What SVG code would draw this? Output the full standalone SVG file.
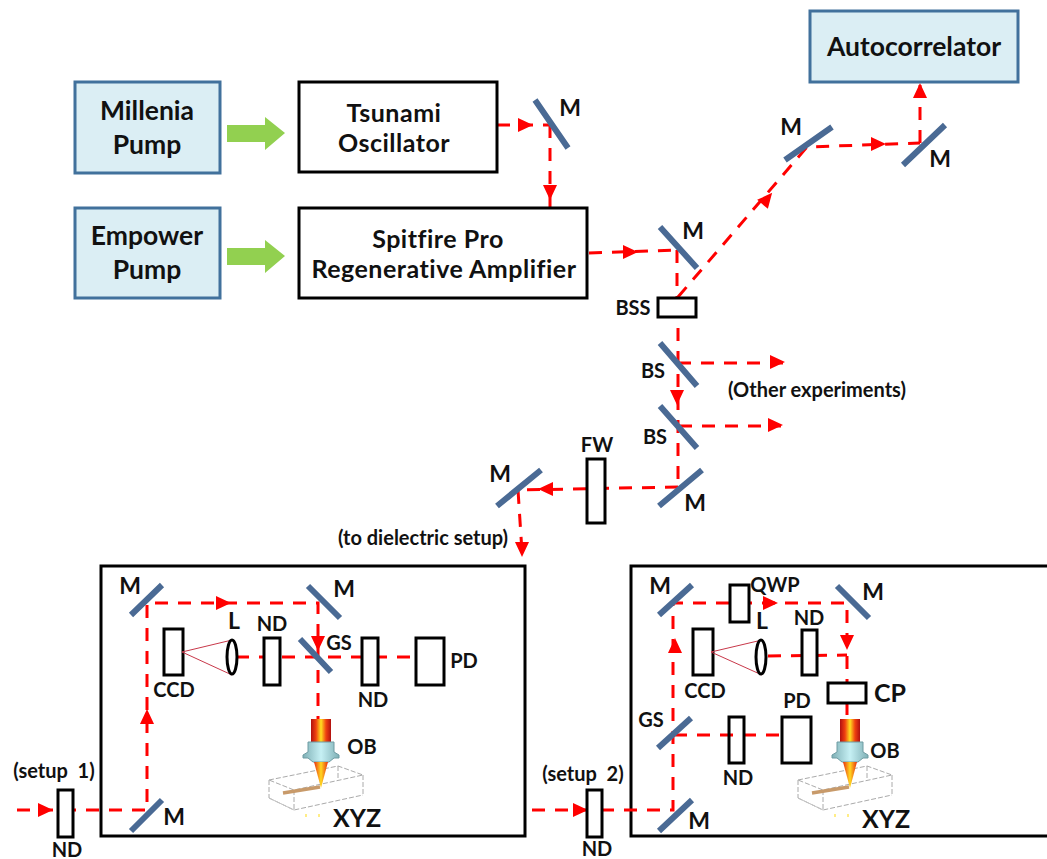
<svg xmlns="http://www.w3.org/2000/svg" width="1047" height="859" viewBox="0 0 1047 859">
<style>
text{font-family:"Lato","Liberation Sans",sans-serif;font-weight:700;fill:#111;text-anchor:middle;white-space:pre}
.t{font-size:26.5px}
.t2{font-size:25px;letter-spacing:.5px}
.l{font-size:23px}
.x{font-size:25px}
.s{font-size:20px}
.pump{fill:#dbeef4;stroke:#41719c;stroke-width:3}
.box{fill:#fff;stroke:#000;stroke-width:3}
.panel{fill:#fff;stroke:#000;stroke-width:3}
.o{fill:#fff;stroke:#000;stroke-width:3}
.n{fill:none;stroke:#000;stroke-width:3}
.mir{stroke:#4a6a94;stroke-width:6;fill:none}
.beam{stroke:#f00;stroke-width:3;stroke-dasharray:13 10;fill:none}
.cone{stroke:#c8384a;stroke-width:1;fill:none}
.cub{stroke:#aaa;stroke-width:1;stroke-dasharray:5 2;fill:none}
.cubs{stroke:#c4c4c4;stroke-width:1;fill:none}
</style>
<defs>
<linearGradient id="fire"><stop offset="0" stop-color="#b01010"/><stop offset=".25" stop-color="#f04010"/><stop offset=".5" stop-color="#ffe020"/><stop offset=".75" stop-color="#f04010"/><stop offset="1" stop-color="#b01010"/></linearGradient>
<linearGradient id="fire2"><stop offset="0" stop-color="#e83010"/><stop offset=".5" stop-color="#ffd820"/><stop offset="1" stop-color="#e83010"/></linearGradient>
<linearGradient id="teal"><stop offset="0" stop-color="#7fb0b6"/><stop offset=".5" stop-color="#c6f0f4"/><stop offset="1" stop-color="#7fb0b6"/></linearGradient>
<path id="ah" d="M-7-7L8 0L-7 7Z" fill="#f00"/>
<g id="ob">
<path class="cub" d="M-52 61L17 47L42 56L-27 71ZM-52 79L-27 91L42 76M-27 71V91M42 56V76M-52 61V79M17 47V60"/>
<path class="cubs" d="M-52 79L-27 91"/>
<rect x="-10" y="0" width="20" height="23" fill="url(#fire)"/>
<path d="M-13 23H13V33L18 36V39H13L8 43H-8L-13 39H-18V36L-13 33Z" fill="url(#teal)" stroke="#6f9ca3" stroke-width="1"/>
<path d="M-7 43H7L0 69Z" fill="url(#fire2)"/>
<path d="M-38 74L-1 68" stroke="#c89a6a" stroke-width="3.500" fill="none"/>
<path d="M-15 95v3M-2 95v3" stroke="#ffe860" stroke-width="1.500"/>
</g>
</defs>
<rect width="1047" height="859" fill="#fff"/>

<g id="panels">
<rect class="panel" x="101" y="566" width="424" height="270"/>
<rect class="panel" x="631" y="566" width="420" height="270"/>
</g>

<g id="connectors">
<path class="beam" d="M497 125H550"/><path class="beam" d="M550 125V208"/>
<path class="beam" d="M589 253L677 250"/><path class="beam" d="M677 250V298"/>
<path class="beam" d="M678 297L807 147L920 143"/><path class="beam" d="M920 143V85"/>
<path class="beam" d="M678 328V487"/><path class="beam" d="M678 363H783"/><path class="beam" d="M679 426H781"/>
<path class="beam" d="M678 487L518 490L522 552"/>
<path class="beam" d="M17 810H147V603H318V719"/>
<path class="beam" d="M236 657H416"/>
<path class="beam" d="M532 810H673V603H847V719"/>
<path class="beam" d="M768 656L847 655"/>
<path class="beam" d="M674 735H782"/>
<use href="#ah" transform="translate(525 125)"/>
<use href="#ah" transform="translate(550 192) rotate(90)"/>
<use href="#ah" transform="translate(630 252)"/>
<use href="#ah" transform="translate(767 199) rotate(-50)"/>
<use href="#ah" transform="translate(878 144)"/>
<use href="#ah" transform="translate(920 91) rotate(-90)"/>
<use href="#ah" transform="translate(777 362)"/>
<use href="#ah" transform="translate(775 425)"/>
<use href="#ah" transform="translate(677 397) rotate(90)"/>
<use href="#ah" transform="translate(546 489) rotate(180)"/>
<use href="#ah" transform="translate(522 549) rotate(90)"/>
<use href="#ah" transform="translate(45 810)"/>
<use href="#ah" transform="translate(147 717) rotate(-90)"/>
<use href="#ah" transform="translate(223 603)"/>
<use href="#ah" transform="translate(318 643) rotate(90)"/>
<use href="#ah" transform="translate(580 810)"/>
<use href="#ah" transform="translate(675 646) rotate(-90)"/>
<use href="#ah" transform="translate(770 603)"/>
<use href="#ah" transform="translate(847 642) rotate(90)"/>
<path d="M227 125H265V117L285 133L265 150V142H227Z" fill="#92d050"/>
<path d="M227 248H265V240L285 256L265 273V265H227Z" fill="#92d050"/>
</g>

<g id="millenia"><rect class="pump" x="75" y="82" width="145" height="91"/><text class="t" x="147" y="120">Millenia</text><text class="t" x="147" y="154">Pump</text></g>
<g id="empower"><rect class="pump" x="75" y="208" width="145" height="90"/><text class="t" x="147" y="245">Empower</text><text class="t" x="147" y="279">Pump</text></g>
<g id="tsunami"><rect class="box" x="299" y="82" width="198" height="90"/><text class="t2" x="394" y="122">Tsunami</text><text class="t2" x="394" y="152">Oscillator</text></g>
<g id="spitfire"><rect class="box" x="299" y="208" width="288" height="90"/><text class="t2" x="438" y="248">Spitfire Pro</text><text class="t2" x="444" y="278">Regenerative Amplifier</text></g>
<g id="autocorrelator"><rect class="pump" x="810" y="11" width="208" height="71"/><text class="t" x="914" y="56">Autocorrelator</text></g>

<g id="main-optics">
<path class="mir" d="M535 100L568 148M660 227L697 268M785 160L832 127M903 165L945 125M660 343L697 386M660 406L697 448M659 506L702 470M497 506L541 470"/>
<rect class="o" x="658" y="298" width="38" height="19"/>
<rect class="o" x="587" y="459" width="18" height="64"/>
<text class="l" x="570" y="116">M</text><text class="l" x="791" y="135">M</text><text class="l" x="940" y="167">M</text>
<text class="l" x="693" y="239">M</text><text class="s" x="633" y="315">BSS</text><text class="s" x="653" y="378">BS</text><text class="s" x="655" y="444">BS</text>
<text class="l" x="695" y="511">M</text><text class="l" x="500" y="482">M</text><text class="s" x="597" y="452">FW</text>
<text class="s" x="817" y="397">(Other experiments)</text>
<text class="s" x="423" y="545">(to dielectric setup)</text>
</g>

<g id="setup1">
<path class="mir" d="M131 615L162 585M308 586L340 618M300 639L331 672M131 831L162 800"/>
<rect class="o" x="164" y="629" width="19" height="46"/>
<path class="cone" d="M182 652L232 640M182 652L232 675"/>
<ellipse class="n" cx="232" cy="657" rx="5" ry="17"/>
<rect class="o" x="264" y="638" width="16" height="47"/>
<rect class="o" x="362" y="638" width="16" height="47"/>
<rect class="o" x="416" y="638" width="28" height="47"/>
<use href="#ob" transform="translate(321 719)"/>
<text class="l" x="130" y="594">M</text><text class="l" x="344" y="597">M</text><text class="l" x="174" y="825">M</text>
<text class="l" x="234" y="629">L</text><text class="s" x="272" y="631">ND</text>
<text class="s" x="339" y="650">GS</text><text class="s" x="373" y="707">ND</text><text class="s" x="464" y="668">PD</text>
<text class="s" x="174" y="697">CCD</text><text class="s" x="362" y="754">OB</text>
<text class="x" x="357" y="827">XYZ</text>
</g>

<g id="setup1-input"><rect class="o" x="58" y="790" width="15" height="47"/><text class="s" x="54" y="778">(setup  1)</text><text class="s" x="67" y="857">ND</text></g>

<g id="setup2">
<path class="mir" d="M659 615L692 585M837 586L869 618M658 748L691 718M659 831L692 800"/>
<rect class="o" x="730" y="585" width="19" height="37"/>
<rect class="o" x="693" y="629" width="20" height="46"/>
<path class="cone" d="M711 652L762 640M711 652L762 675"/>
<ellipse class="n" cx="761" cy="657" rx="5" ry="17"/>
<rect class="o" x="802" y="630" width="15" height="45"/>
<rect class="o" x="828" y="683" width="38" height="20"/>
<rect class="n" x="729" y="717" width="15" height="46"/>
<rect class="o" x="782" y="717" width="29" height="46"/>
<use href="#ob" transform="translate(850 719)"/>
<text class="l" x="660" y="594">M</text><text class="l" x="873" y="600">M</text><text class="l" x="699" y="829">M</text>
<text class="s" x="775" y="592">QWP</text><text class="l" x="762" y="629">L</text><text class="s" x="809" y="625">ND</text>
<text class="s" x="705" y="698">CCD</text><text class="s" x="651" y="727">GS</text>
<text class="s" x="797" y="708">PD</text><text class="s" x="738" y="785">ND</text>
<text class="x" x="890" y="702">CP</text><text class="s" x="885" y="758">OB</text>
<text class="x" x="886" y="828">XYZ</text>
</g>
<g id="setup2-input"><rect class="o" x="587" y="790" width="15" height="47"/><text class="s" x="583" y="781">(setup  2)</text><text class="s" x="597" y="856">ND</text></g>
</svg>
